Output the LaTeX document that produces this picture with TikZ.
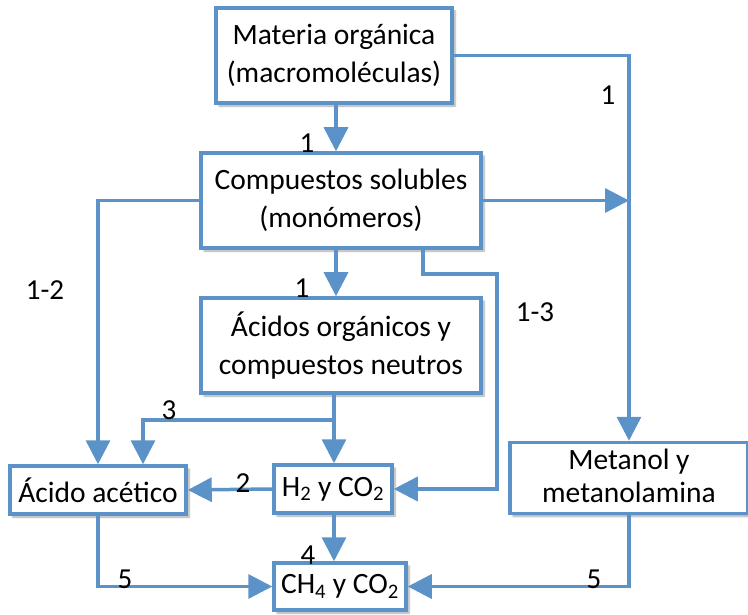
\documentclass[tikz,border=0pt]{standalone}
\usepackage{fontspec}
\setmainfont{Carlito}
\usetikzlibrary{arrows.meta,shadows.blur}
\definecolor{lblue}{HTML}{5B93C9}
\begin{document}
\begin{tikzpicture}[x=1pt,y=-1pt,
  box/.style={draw=lblue,line width=3.5pt,fill=white,align=center,inner sep=0pt,
    font=\fontsize{29.5}{38}\selectfont,
    blur shadow={shadow xshift=3pt,shadow yshift=-3pt,shadow blur steps=6,shadow opacity=35}},
  arr/.style={draw=lblue,line width=3.5pt,-{Triangle[length=24pt,width=24pt]}},
  ln/.style={draw=lblue,line width=3.5pt},
  lab/.style={font=\fontsize{29}{32}\selectfont,inner sep=0pt}]
\useasboundingbox (0,0) rectangle (748,615);
\node[box,minimum width=236pt,minimum height=95pt] (mat) at (334,55.5) {Materia orgánica\\(macromoléculas)};
\node[box,minimum width=280pt,minimum height=95pt] (comp) at (341,200.5) {Compuestos solubles\\(monómeros)};
\node[box,minimum width=280pt,minimum height=95pt] (acid) at (341,345.5) {Ácidos orgánicos y\\compuestos neutros};
\node[box,minimum width=176pt,minimum height=48pt] (acet) at (98,490) {Ácido acético};
\node[box,minimum width=118pt,minimum height=48pt] (h2) at (333,489) {H\textsubscript{2} y CO\textsubscript{2}};
\node[box,minimum width=238pt,minimum height=70pt] (met) at (629,478) {\raisebox{4pt}{\begin{tabular}{@{}c@{}}Metanol y\\[-5pt]metanolamina\end{tabular}}};
\node[box,minimum width=132pt,minimum height=47pt] (ch4) at (340,586.5) {CH\textsubscript{4} y CO\textsubscript{2}};
\coordinate (c1) at (423,274);
\coordinate (c2) at (497,274);
\coordinate (k) at (334,420);
\coordinate (k2) at (143,420);
\coordinate (m) at (336,0);
% connectors
\draw[arr] (mat.south -| m) -- (comp.north -| m);
\draw[arr] (mat.east) -| (met.north);
\draw[arr] (comp.east) -- (comp.east -| met.north);
\draw[arr] (comp.west) -| (acet.north);
\draw[arr] (comp.south -| m) -- (acid.north -| m);
\draw[arr] (comp.south -| c1) -- (c1) -- (c2) |- (h2.east);
\draw[ln] (acid.south -| k) -- (k);
\draw[arr] (k) -- (k |- h2.north);
\draw[arr] (k) -- (k2) -- (k2 |- acet.north);
\draw[arr] (h2.west) -- (acet.east);
\draw[arr] (h2.south -| k) -- (ch4.north -| k);
\draw[arr] (acet.south) |- (ch4.west);
\draw[arr] (met.south) |- (ch4.east);
% labels
\node[lab] (l1) at (307,143) {1};
\node[lab] (l2) at (302,288) {1};
\node[lab] (l3) at (608,95) {1};
\node[lab] (l4) at (535,312) {1-3};
\node[lab] (l5) at (45,290) {1-2};
\node[lab] (l6) at (169,410) {3};
\node[lab] (l7) at (243,483) {2};
\node[lab] (l8) at (308,555) {4};
\node[lab] (l9) at (125,579) {5};
\node[lab] (l10) at (594,579) {5};
\end{tikzpicture}
\end{document}
